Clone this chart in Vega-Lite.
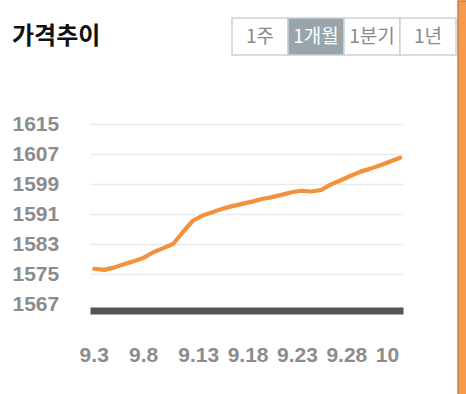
{
  "$schema": "https://vega.github.io/schema/vega-lite/v6.json",
  "padding": {"left": 12, "top": 0, "right": 0, "bottom": 0},
  "background": "#ffffff",
  "config": {"view": {"stroke": null}, "font": "Liberation Sans"},
  "spacing": 0,
  "hconcat": [
    {
      "spacing": 57,
      "vconcat": [
        {
          "width": 366,
          "height": 54,
          "title": {"text": "가격추이", "anchor": "start", "frame": "group", "orient": "top", "offset": -67, "dx": -78, "baseline": "alphabetic", "font": "Noto Sans CJK KR", "fontSize": 24, "fontWeight": "bold", "color": "#111111"},
          "data": {"values": [
            {"label": "1주", "state": "off"},
            {"label": "1개월", "state": "on"},
            {"label": "1분기", "state": "off"},
            {"label": "1년", "state": "off"}
          ]},
          "encoding": {
            "x": {"field": "label", "type": "nominal", "sort": null, "axis": null, "scale": {"paddingInner": 0, "paddingOuter": 0, "range": [142, 366]}},
            "y": {"datum": "b", "type": "nominal", "axis": null, "scale": {"paddingInner": 0, "paddingOuter": 0, "range": [17, 54]}}
          },
          "layer": [
            {"mark": {"type": "rect", "stroke": "#c9d1d5", "strokeWidth": 1.5},
             "encoding": {"fill": {"condition": {"test": "datum.state === 'on'", "value": "#98a5ab"}, "value": "#ffffff"}}},
            {"mark": {"type": "text", "font": "Noto Sans CJK KR", "fontSize": 19, "baseline": "middle"},
             "encoding": {"text": {"field": "label"}, "color": {"condition": {"test": "datum.state === 'on'", "value": "#ffffff"}, "value": "#8a8a8a"}}}
          ]
        },
        {
          "width": 313,
          "height": 180,
          "data": {"values": [
            {"date": "2023-09-03", "price": 1576.4},
            {"date": "2023-09-04", "price": 1576.1},
            {"date": "2023-09-05", "price": 1576.7},
            {"date": "2023-09-06", "price": 1577.6},
            {"date": "2023-09-07", "price": 1578.4},
            {"date": "2023-09-08", "price": 1579.3},
            {"date": "2023-09-09", "price": 1580.8},
            {"date": "2023-09-10", "price": 1581.9},
            {"date": "2023-09-11", "price": 1583.0},
            {"date": "2023-09-12", "price": 1586.2},
            {"date": "2023-09-13", "price": 1589.2},
            {"date": "2023-09-14", "price": 1590.6},
            {"date": "2023-09-15", "price": 1591.5},
            {"date": "2023-09-16", "price": 1592.4},
            {"date": "2023-09-17", "price": 1593.1},
            {"date": "2023-09-18", "price": 1593.7},
            {"date": "2023-09-19", "price": 1594.3},
            {"date": "2023-09-20", "price": 1595.0},
            {"date": "2023-09-21", "price": 1595.5},
            {"date": "2023-09-22", "price": 1596.1},
            {"date": "2023-09-23", "price": 1596.8},
            {"date": "2023-09-24", "price": 1597.2},
            {"date": "2023-09-25", "price": 1597.0},
            {"date": "2023-09-26", "price": 1597.4},
            {"date": "2023-09-27", "price": 1598.9},
            {"date": "2023-09-28", "price": 1600.0},
            {"date": "2023-09-29", "price": 1601.2},
            {"date": "2023-09-30", "price": 1602.3},
            {"date": "2023-10-01", "price": 1603.1},
            {"date": "2023-10-02", "price": 1604.0},
            {"date": "2023-10-03", "price": 1605.0},
            {"date": "2023-10-04", "price": 1606.0}
          ]},
          "mark": {"type": "line", "color": "#f4913c", "strokeWidth": 4.2, "strokeCap": "round", "strokeJoin": "round"},
          "encoding": {
            "x": {
              "field": "date", "type": "temporal",
              "scale": {"type": "utc", "nice": false, "domain": [
                {"year": 2023, "month": 9, "date": 2, "hours": 14, "utc": true},
                {"year": 2023, "month": 10, "date": 4, "hours": 7, "utc": true}
              ]},
              "axis": {
                "title": null,
                "values": [
                  {"year": 2023, "month": 9, "date": 3, "utc": true},
                  {"year": 2023, "month": 9, "date": 8, "utc": true},
                  {"year": 2023, "month": 9, "date": 13, "utc": true},
                  {"year": 2023, "month": 9, "date": 18, "utc": true},
                  {"year": 2023, "month": 9, "date": 23, "utc": true},
                  {"year": 2023, "month": 9, "date": 28, "utc": true},
                  {"year": 2023, "month": 10, "date": 3, "utc": true}
                ],
                "labelExpr": "utcFormat(datum.value, '%m') == '10' ? '10' : utcFormat(datum.value, '%-m.%-d')",
                "grid": false, "ticks": false, "tickSize": 0,
                "domainColor": "#555555", "domainWidth": 7, "domainCap": "butt", "offset": 6.5,
                "labelAlign": "left", "labelOffset": -15, "labelPadding": 51, "labelBaseline": "alphabetic",
                "labelFlush": false, "labelOverlap": false,
                "labelFont": "Liberation Sans", "labelFontSize": 21, "labelFontWeight": "bold", "labelColor": "#8c8c8c"
              }
            },
            "y": {
              "field": "price", "type": "quantitative",
              "scale": {"domain": [1567, 1615], "nice": false, "zero": false},
              "axis": {
                "title": null, "format": "d",
                "values": [1567, 1575, 1583, 1591, 1599, 1607, 1615],
                "domain": false, "ticks": false, "tickSize": 0,
                "labelAlign": "left", "labelPadding": 78,
                "labelFont": "Liberation Sans", "labelFontSize": 21, "labelFontWeight": "bold", "labelColor": "#8c8c8c",
                "grid": true, "gridWidth": 1.5,
                "gridColor": {"condition": {"test": "datum.value === 1567", "value": "transparent"}, "value": "#ebebeb"}
              }
            }
          }
        }
      ]
    },
    {
      "width": 9,
      "height": 394,
      "data": {"values": [{"part": "edge"}]},
      "mark": {"type": "rect", "color": "#f49a4f", "stroke": "#cf7b38", "strokeWidth": 1.5},
      "encoding": {}
    }
  ]
}
